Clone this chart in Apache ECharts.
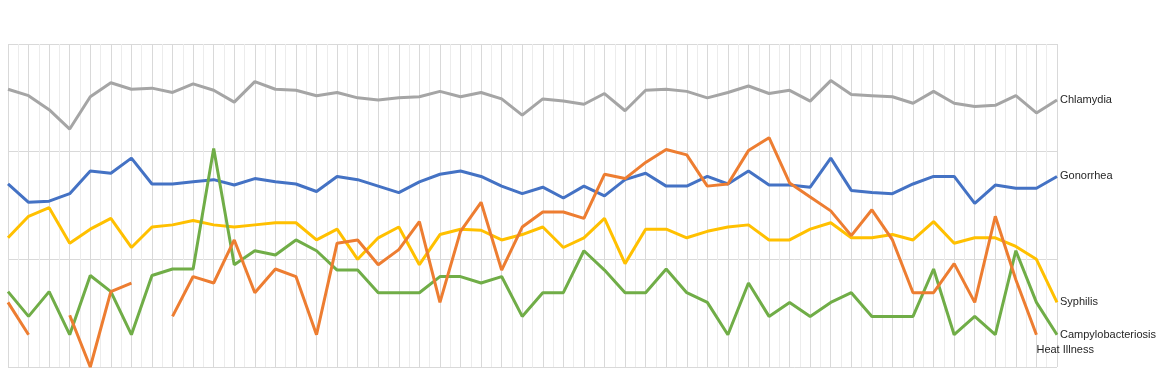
<!DOCTYPE html>
<html><head><meta charset="utf-8">
<script src="https://cdn.jsdelivr.net/npm/echarts@6/dist/echarts.min.js"></script>
<style>html,body{margin:0;padding:0;background:#fff}#c{width:1159px;height:370px}</style>
</head><body><div id="c"></div><script>
// Week numbers (x categories)
const weeks = Array.from({length: 52}, (_, i) => i + 1);

// Series values (relative index)
const chlamydia = [258,252,239,221,251,264,258,259,255,263,257,246,265,258,257,252,255,250,248,250,251,256,251,255,249,234,249,247,244,254,238,257,258,256,250,255,261,254,257,247,266,253,252,251,245,256,245,242,243,252,236,248];
const gonorrhea = [170,153,154,161,182,180,194,170,170,172,174,169,175,172,170,163,177,174,168,162,172,179,182,177,168,161,167,157,168,159,174,180,168,168,177,170,182,169,169,167,194,164,162,161,170,177,177,152,169,166,166,177];
const syphilis = [120,140,148,115,128,138,111,130,132,136,132,130,132,134,134,118,128,100,120,130,95,123,128,127,118,123,130,111,120,138,96,128,128,120,126,130,132,118,118,128,134,120,120,123,118,135,115,120,120,112,100,60];
const campylobacteriosis = [70,47,70,30,85,70,30,85,91,91,203,95,108,104,118,108,90,90,69,69,69,84,84,78,84,47,69,69,108,90,69,69,91,69,60,30,78,47,60,47,60,69,47,47,47,91,30,47,30,108,60,30];
const heatIllness = [60,30,null,48,0,70,78,null,47,84,78,118,69,91,84,30,115,118,95,109,135,60,126,153,90,130,144,144,138,179,175,190,202,197,168,170,201,213,171,158,145,122,146,118,69,69,96,60,140,81,30,null];

const seriesNames = ['Chlamydia','Gonorrhea','Syphilis','Campylobacteriosis','Heat Illness'];
const seriesValues = [chlamydia, gonorrhea, syphilis, campylobacteriosis, heatIllness];
const seriesColors = ['#A5A5A5','#4472C4','#FFC000','#70AD47','#ED7D31'];

const chart = echarts.init(document.getElementById('c'), null, {renderer: 'canvas'});
const labelFont = {fontSize: 11, fontFamily: '"Liberation Sans", Arial, sans-serif', color: '#262626'};

const series = seriesNames.map((name, k) => ({
  name,
  type: 'line',
  data: seriesValues[k].map((v, i) => [weeks[i], v]),
  symbol: 'none',
  connectNulls: false,
  clip: false,
  lineStyle: {width: 3, color: seriesColors[k]},
  itemStyle: {color: seriesColors[k]},
  endLabel: Object.assign({
    show: true,
    formatter: '{a}',
    distance: 3,
    offset: name === 'Heat Illness' ? [-3, 15] : [0, 0]
  }, labelFont)
}));

chart.setOption({
  animation: false,
  grid: {left: 8, right: 102, top: 44, bottom: 3, containLabel: false},
  xAxis: {
    type: 'value', min: 1, max: 52, interval: 1,
    axisLine: {show: false}, axisTick: {show: false}, axisLabel: {show: false},
    splitLine: {show: true, lineStyle: {color: '#d9d9d9', width: 1}},
    minorTick: {show: false, splitNumber: 2},
    minorSplitLine: {show: true, lineStyle: {color: '#ececec', width: 1}}
  },
  yAxis: {
    type: 'value', min: 0, max: 300, interval: 100,
    axisLine: {show: false}, axisTick: {show: false}, axisLabel: {show: false},
    splitLine: {show: true, lineStyle: {color: '#d9d9d9', width: 1}}
  },
  series
});
</script></body></html>
